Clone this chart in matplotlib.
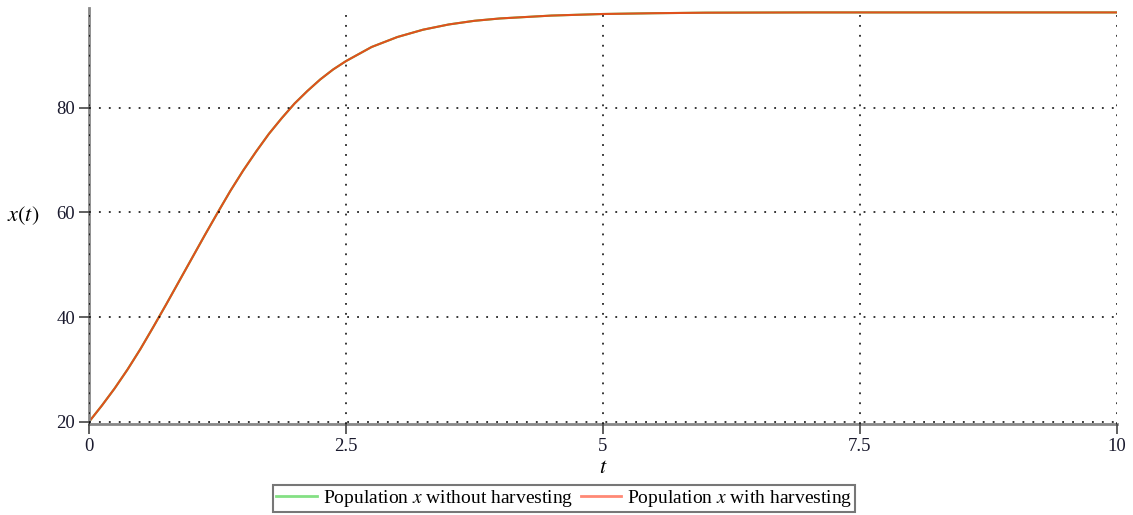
import numpy as np
import matplotlib.pyplot as plt

plt.rcParams['font.family'] = ['Liberation Serif', 'DejaVu Serif']
plt.rcParams['mathtext.fontset'] = 'stix'

# population samples (t, x) for the two runs
t_vals = [0, 0.125, 0.25, 0.375, 0.5, 0.625, 0.75, 0.875, 1.0, 1.125, 1.25, 1.375,
          1.5, 1.625, 1.75, 1.875, 2.0, 2.125, 2.25, 2.375, 2.5, 2.75,
          3.0, 3.25, 3.5, 3.75, 4.0, 4.5, 5.0, 5.5, 6.0, 7.0, 8.0, 9.0, 10.0]
x_free = [20.0, 23.1, 26.4, 30.0, 33.9, 38.1, 42.4, 46.8, 51.2, 55.6, 59.9, 64.1,
          68.0, 71.6, 75.0, 78.0, 80.8, 83.2, 85.4, 87.3, 88.9, 91.6,
          93.5, 94.9, 95.9, 96.6, 97.05, 97.6, 97.9, 98.05, 98.15, 98.2, 98.2, 98.2, 98.2]
x_harv = [20.0, 23.1, 26.4, 30.0, 33.9, 38.1, 42.4, 46.8, 51.2, 55.6, 59.9, 64.1,
          68.0, 71.6, 75.0, 78.0, 80.8, 83.2, 85.4, 87.3, 88.9, 91.6,
          93.5, 94.9, 95.9, 96.6, 97.05, 97.6, 97.9, 98.05, 98.15, 98.2, 98.2, 98.2, 98.2]

x_ticks = [0, 2.5, 5, 7.5, 10]
x_ticklabels = ['0', '2.5', '5', '7.5', '10']
y_ticks = [20, 40, 60, 80]

fig = plt.figure(figsize=(11.33, 5.15), dpi=100)
ax = fig.add_axes([0.0786, 0.177, 0.907, 0.807])

ax.plot(t_vals, x_free, color='#33cc33', lw=1.5,
        label='Population $x$ without harvesting')
ax.plot(t_vals, x_harv, color='#ff3a1a', lw=1.5, alpha=0.85,
        label='Population $x$ with harvesting')

ax.set_xlim(0, 10)
ax.set_ylim(19.6, 99)
ax.set_xticks(x_ticks)
ax.set_xticklabels(x_ticklabels)
ax.set_yticks(y_ticks)

for s in ['top', 'right']:
    ax.spines[s].set_visible(False)
for s in ['left', 'bottom']:
    ax.spines[s].set_color('#888888')
    ax.spines[s].set_linewidth(2)
ax.tick_params(direction='out', length=7, width=1.2, color='#444444',
               labelsize=13.5, labelcolor='#1a1a2e', pad=3)

ax.grid(True, color='black', lw=1.1, linestyle=(0, (1.2, 5.3)))
ax.set_axisbelow(False)

ax.set_xlabel('$t$', fontsize=16, labelpad=3)
ax.set_ylabel('$x(t)$', fontsize=16, rotation=0, labelpad=24, va='center')

h, l = ax.get_legend_handles_labels()
leg = fig.legend(h, l, loc='upper center', bbox_to_anchor=(0.498, 0.058), ncol=2,
                 fontsize=14, frameon=True, fancybox=False, handlelength=2.1,
                 handletextpad=0.3, columnspacing=0.4, borderpad=0.15,
                 borderaxespad=0)
leg.get_frame().set_edgecolor('#555555')
leg.get_frame().set_linewidth(1.5)
for ln in leg.get_lines():
    ln.set_alpha(0.6)
    ln.set_linewidth(2)

fig.savefig('out.png', dpi=100)
